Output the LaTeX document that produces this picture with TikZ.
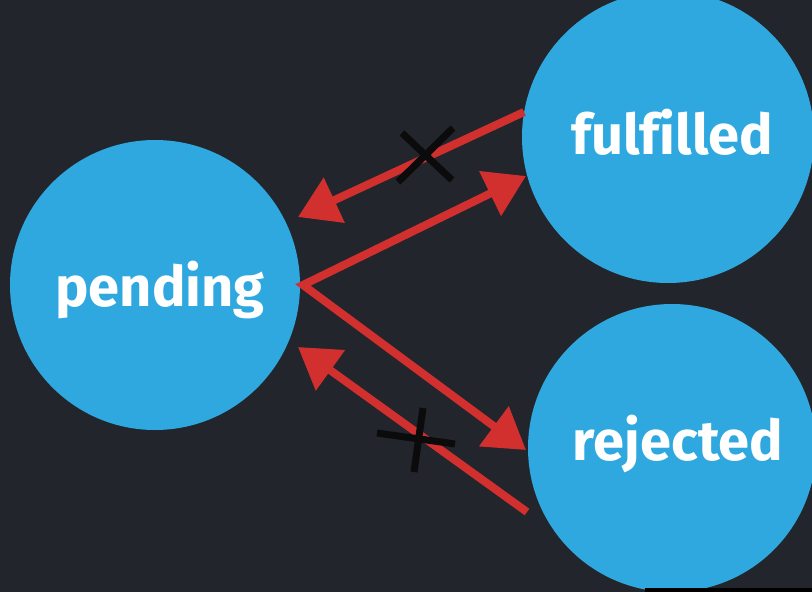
\documentclass[tikz,border=0pt]{standalone}
\usepackage{fontspec}
\setmainfont{Fira Sans}[Ligatures=CommonOff]
\usetikzlibrary{arrows.meta}
\definecolor{bg}{HTML}{23252C}
\definecolor{ball}{HTML}{2EA8DF}
\definecolor{redline}{HTML}{D22F2F}
\definecolor{markblack}{HTML}{0B0B0C}
\tikzset{
  state/.style={circle, fill=ball, inner sep=0pt, minimum size=#1},
  label/.style={text=white, font=\bfseries\fontsize{56}{62}\selectfont, anchor=base, inner sep=0pt},
  flow/.style={draw=redline, line width=8pt, line join=miter},
  tip/.style={-{Triangle[length=40pt,width=48pt]}},
  cross/.style={draw=markblack, line width=7pt}
}
\begin{document}
\begin{tikzpicture}[x=1pt,y=-1pt]
\fill[bg] (0,0) rectangle (812,592);
\useasboundingbox (0,0) rectangle (812,592);
\node[state=290pt] (pending) at (155,285) {};
\node[state=292pt] (fulfilled) at (668,137) {};
\node[state=288pt] (rejected) at (672,448) {};
\node[label] (tp) at (160,306) {pending};
\node[label] (tf) at (672,154) {fulfilled};
\node[label] (tr) at (678,460) {rejected};
\fill[black] (645,588) rectangle (812,592);
% connector end points
\coordinate (f1) at (524,112);
\coordinate (p1) at (298,217);
\coordinate (v) at (303,285);
\coordinate (f2) at (526,176);
\coordinate (r2) at (526,450);
\coordinate (r1) at (527,512);
\coordinate (p2) at (298,347);
\draw[flow, tip] (f1) -- (p1);
\draw[flow, {Triangle[length=40pt,width=48pt]}-{Triangle[length=40pt,width=48pt]}] (f2) -- (v) -- (r2);
\draw[flow, tip] (r1) -- (p2);
% crosses
\coordinate (xa1) at (402,133); \coordinate (xa2) at (452,180);
\coordinate (xb1) at (453,128); \coordinate (xb2) at (398,182);
\draw[cross] (xa1) -- (xa2);
\draw[cross] (xb1) -- (xb2);
\coordinate (ha1) at (377,433); \coordinate (ha2) at (455,444);
\coordinate (hb1) at (423,408); \coordinate (hb2) at (414,472);
\draw[cross] (ha1) -- (ha2);
\draw[cross] (hb1) -- (hb2);
\end{tikzpicture}
\end{document}
